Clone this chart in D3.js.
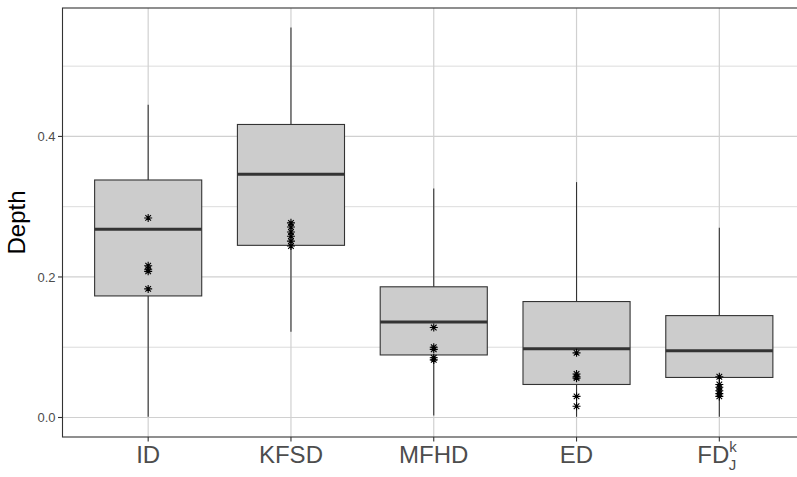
<!DOCTYPE html>
<html>
<head>
<meta charset="utf-8">
<script src="https://cdn.jsdelivr.net/npm/d3@7"></script>
<style>
  body { margin: 0; background: #fff; }
  svg { display: block; font-family: "Liberation Sans", Arial, sans-serif; }
</style>
</head>
<body>
<div id="chart"></div>
<script>
const categories = ["ID", "KFSD", "MFHD", "ED", "FD"];
const whiskerLow = [0.001, 0.122, 0.003, 0.001, 0.001];
const q1 = [0.173, 0.245, 0.089, 0.047, 0.057];
const median = [0.268, 0.346, 0.136, 0.098, 0.095];
const q3 = [0.338, 0.417, 0.186, 0.165, 0.145];
const whiskerHigh = [0.445, 0.555, 0.326, 0.335, 0.270];
const stars = [
  [0.284, 0.216, 0.211, 0.208, 0.183],
  [0.277, 0.271, 0.264, 0.258, 0.251, 0.244],
  [0.128, 0.100, 0.097, 0.085, 0.082],
  [0.092, 0.062, 0.058, 0.056, 0.030, 0.016],
  [0.058, 0.047, 0.043, 0.038, 0.034, 0.030]
];
const yTicks = [0, 0.2, 0.4];
const yMinor = [0.1, 0.3, 0.5];

const width = 797, height = 477;
const margin = { top: 8, right: -8, bottom: 40, left: 62.5 };
const panelBottom = height - margin.bottom;
const panelRight = width - margin.right;

const svg = d3.select("#chart").append("svg")
  .attr("width", width)
  .attr("height", height);

// ggplot-style discrete axis: 0.6 expansion on each side
const x = d3.scalePoint()
  .domain(categories)
  .range([margin.left, panelRight])
  .padding(0.6);
const cx = d => x(d);
const step = x.step();

const yMax = 0.555 * 1.05, yMin = -0.555 * 0.05;
const y = d3.scaleLinear()
  .domain([yMin, yMax])
  .range([panelBottom, margin.top]);

// grid
const grid = svg.append("g");
grid.selectAll("line.minor")
  .data(yMinor)
  .enter().append("line")
  .attr("x1", margin.left).attr("x2", panelRight)
  .attr("y1", d => y(d)).attr("y2", d => y(d))
  .attr("stroke", "#dcdcdc").attr("stroke-width", 1);
grid.selectAll("line.major")
  .data(yTicks)
  .enter().append("line")
  .attr("x1", margin.left).attr("x2", panelRight)
  .attr("y1", d => y(d)).attr("y2", d => y(d))
  .attr("stroke", "#d0d0d0").attr("stroke-width", 1.2);
grid.selectAll("line.vert")
  .data(categories)
  .enter().append("line")
  .attr("x1", d => cx(d)).attr("x2", d => cx(d))
  .attr("y1", margin.top).attr("y2", panelBottom)
  .attr("stroke", "#d0d0d0").attr("stroke-width", 1.2);

// boxes
const bw = step * 0.75;
const boxes = svg.append("g").selectAll("g")
  .data(categories)
  .enter().append("g");

boxes.append("line")
  .attr("x1", d => cx(d)).attr("x2", d => cx(d))
  .attr("y1", (d, i) => y(whiskerHigh[i])).attr("y2", (d, i) => y(q3[i]))
  .attr("stroke", "#333").attr("stroke-width", 1.1);
boxes.append("line")
  .attr("x1", d => cx(d)).attr("x2", d => cx(d))
  .attr("y1", (d, i) => y(q1[i])).attr("y2", (d, i) => y(whiskerLow[i]))
  .attr("stroke", "#333").attr("stroke-width", 1.1);
boxes.append("rect")
  .attr("x", d => cx(d) - bw / 2)
  .attr("width", bw)
  .attr("y", (d, i) => y(q3[i]))
  .attr("height", (d, i) => y(q1[i]) - y(q3[i]))
  .attr("fill", "#cccccc")
  .attr("stroke", "#333").attr("stroke-width", 1.1);
boxes.append("line")
  .attr("x1", d => cx(d) - bw / 2).attr("x2", d => cx(d) + bw / 2)
  .attr("y1", (d, i) => y(median[i])).attr("y2", (d, i) => y(median[i]))
  .attr("stroke", "#333").attr("stroke-width", 3);

// asterisks (plus + times)
const r = 4;
const starPath = `M${-r},0L${r},0M0,${-r}L0,${r}M${-r * 0.7},${-r * 0.7}L${r * 0.7},${r * 0.7}M${-r * 0.7},${r * 0.7}L${r * 0.7},${-r * 0.7}`;
boxes.each(function (d, i) {
  d3.select(this).selectAll("path.star")
    .data(stars[i])
    .enter().append("path")
    .attr("d", starPath)
    .attr("transform", v => `translate(${cx(d)},${y(v)})`)
    .attr("stroke", "#000").attr("stroke-width", 1.1).attr("fill", "none");
});

// panel border
svg.append("rect")
  .attr("x", margin.left).attr("y", margin.top)
  .attr("width", panelRight - margin.left)
  .attr("height", panelBottom - margin.top)
  .attr("fill", "none").attr("stroke", "#333").attr("stroke-width", 1.1);

// y axis
const yAxis = svg.append("g");
yAxis.selectAll("line")
  .data(yTicks)
  .enter().append("line")
  .attr("x1", margin.left - 4.5).attr("x2", margin.left)
  .attr("y1", d => y(d)).attr("y2", d => y(d))
  .attr("stroke", "#333").attr("stroke-width", 1.1);
yAxis.selectAll("text")
  .data(yTicks)
  .enter().append("text")
  .attr("x", margin.left - 7)
  .attr("y", d => y(d))
  .attr("dy", "0.35em")
  .attr("text-anchor", "end")
  .attr("font-size", 13)
  .attr("fill", "#4d4d4d")
  .text(d => d3.format(".1f")(d));

svg.append("text")
  .attr("transform", `translate(25,${(margin.top + panelBottom) / 2}) rotate(-90)`)
  .attr("text-anchor", "middle")
  .attr("font-size", 24)
  .attr("fill", "#000")
  .text("Depth");

// x axis
const xAxis = svg.append("g");
xAxis.selectAll("line")
  .data(categories)
  .enter().append("line")
  .attr("x1", d => cx(d)).attr("x2", d => cx(d))
  .attr("y1", panelBottom).attr("y2", panelBottom + 4.5)
  .attr("stroke", "#333").attr("stroke-width", 1.1);
const labels = xAxis.selectAll("text")
  .data(categories)
  .enter().append("text")
  .attr("x", d => cx(d))
  .attr("y", panelBottom + 26)
  .attr("text-anchor", "middle")
  .attr("font-size", 24)
  .attr("fill", "#4d4d4d");
labels.filter(d => d !== "FD").text(d => d);
const fd = labels.filter(d => d === "FD")
  .attr("text-anchor", "start")
  .attr("x", d => cx(d) - 22);
fd.append("tspan").text("FD");
fd.append("tspan").attr("font-size", 15).attr("dy", -11).text("k");
fd.append("tspan").attr("font-size", 15).attr("dx", -8).attr("dy", 18).text("J");
</script>
</body>
</html>
